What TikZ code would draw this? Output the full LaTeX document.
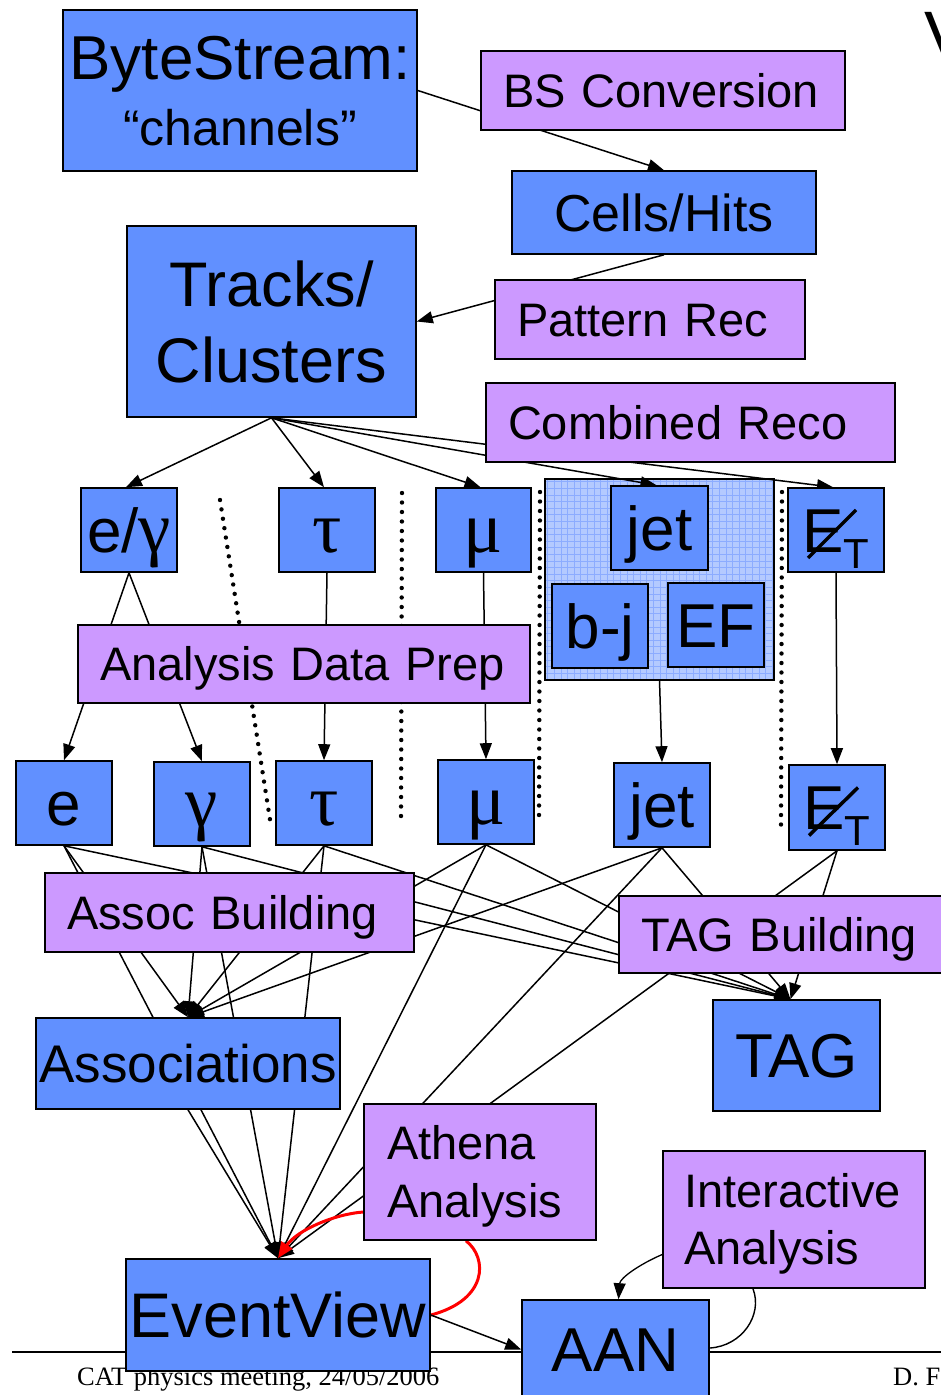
\documentclass[tikz,border=0pt]{standalone}
\usepackage{fontspec}
\setmainfont{Liberation Sans}
\newfontfamily\grkfont{Liberation Serif}
\newfontfamily\footfont{Liberation Serif}
\usetikzlibrary{arrows.meta}
\pgfdeclarelayer{back}
\pgfdeclarelayer{mid}
\pgfsetlayers{back,mid,main}
\definecolor{objblue}{RGB}{97,144,255}
\definecolor{procviolet}{RGB}{204,153,255}
\definecolor{grpfill}{RGB}{180,202,255}
\definecolor{grpgrid}{RGB}{140,172,255}
\definecolor{flowred}{RGB}{255,0,0}
% Greek object symbols set in a serif face
\newcommand{\grk}[1]{{\grkfont\fontsize{73}{73}\selectfont #1}}
% missing transverse energy label (slash drawn separately)
\newcommand{\missET}{E\raisebox{-16pt}{\fontsize{42}{42}\selectfont T}}
\begin{document}
\begin{tikzpicture}[x=1pt,y=-1pt,
  obj/.style={draw=black, fill=objblue, line width=1.6pt, inner sep=0pt},
  proc/.style={draw=black, fill=procviolet, line width=1.6pt, inner xsep=22pt, inner ysep=0pt, align=left},
  f47/.style={font=\fontsize{47}{56}\selectfont, text height=33.7pt, text depth=0pt},
  f52/.style={font=\fontsize{52}{60}\selectfont, text height=37.2pt, text depth=0pt},
  f53/.style={font=\fontsize{53}{60}\selectfont, text height=37.9pt, text depth=0pt},
  f62/.style={font=\fontsize{62}{70}\selectfont, text height=44.4pt, text depth=0pt},
  f63/.style={font=\fontsize{63}{70}\selectfont, text height=45.1pt, text depth=0pt},
  arr/.style={-{Triangle[length=16pt,width=12pt]}, line width=1.5pt},
  redarr/.style={-{Triangle[length=16pt,width=13pt]}, draw=flowred, line width=3pt},
  plain/.style={line width=1.4pt},
  dotrule/.style={line width=4.4pt, dash pattern=on 0pt off 9.5pt, line cap=round},
  slash/.style={line width=3.5pt}
]
\useasboundingbox (0,0) rectangle (941,1395);

% ---------- data objects and processing steps ----------
\node[obj, minimum width=354pt, minimum height=161pt, font=\fontsize{62}{66}\selectfont,
      text height=110.4pt, text depth=0pt] (bs) at (240,90.5)
  {\begin{tabular}[b]{@{}c@{}}ByteStream:\\\fontsize{50}{66}\selectfont “channels”\end{tabular}};
\node[proc, f47, text width=320pt, minimum height=79pt] (bsconv) at (663,90.5) {BS Conversion};
\node[obj, f52, minimum width=304pt, minimum height=83pt] (cells) at (664,212.5) {Cells/Hits};
\node[obj, minimum width=289pt, minimum height=191pt, font=\fontsize{63}{76}\selectfont,
      text height=121.1pt, text depth=0pt] (tracks) at (271.5,321.5)
  {\begin{tabular}[b]{@{}c@{}}Tracks/\\Clusters\end{tabular}};
\node[proc, f47, text width=266pt, minimum height=79pt] (patrec) at (650,319.5) {Pattern Rec};
\node[proc, f47, text width=365pt, minimum height=79pt] (combreco) at (690.5,422.5) {Combined Reco};

% first row of physics objects
\node[obj, f62, minimum width=96pt, minimum height=84pt] (eg1) at (129,530) {e/\grk{γ}};
\node[obj, f62, minimum width=96pt, minimum height=84pt] (tau1) at (327,530) {\grk{τ}};
\node[obj, f62, minimum width=95pt, minimum height=84pt] (mu1) at (483.5,530) {\grk{μ}};
\node[obj, f62, minimum width=97pt, minimum height=84pt] (jet1) at (659.5,528) {jet};
\node[obj, f62, minimum width=96pt, minimum height=84pt] (bj) at (600,626) {b-j};
\node[obj, f62, minimum width=96pt, minimum height=84pt] (ef) at (716,625) {EF};
\node[obj, f62, minimum width=96pt, minimum height=84pt] (et1) at (836,530) {\missET};
\draw[slash] ([shift={(-28,28)}]et1.center) -- ([shift={(20,-20)}]et1.center);

\node[proc, f47, text width=408pt, minimum height=78pt] (adp) at (304,664) {Analysis Data Prep};

% second row of physics objects
\node[obj, f62, minimum width=96pt, minimum height=84pt] (e2) at (64,803) {e};
\node[obj, f62, minimum width=96pt, minimum height=84pt] (g2) at (202,804) {\grk{γ}};
\node[obj, f62, minimum width=96pt, minimum height=84pt] (tau2) at (324,803) {\grk{τ}};
\node[obj, f62, minimum width=96pt, minimum height=84pt] (mu2) at (486,802) {\grk{μ}};
\node[obj, f62, minimum width=96pt, minimum height=84pt] (jet2) at (662,805) {jet};
\node[obj, f62, minimum width=96pt, minimum height=85pt] (et2) at (837,807.5) {\missET};
\draw[slash] ([shift={(-28,28)}]et2.center) -- ([shift={(21,-20)}]et2.center);

% building steps and their outputs
\node[proc, f47, text width=325pt, minimum height=79pt] (assocb) at (229.5,912.5) {Assoc Building};
\node[proc, f47, text width=297pt, minimum height=77pt] (tagb) at (789.5,934.5) {TAG Building};
\node[obj, f53, minimum width=304pt, minimum height=91pt] (assoc) at (188,1063.5) {Associations};
\node[obj, f62, minimum width=167pt, minimum height=111pt] (tag) at (796.5,1055.5) {TAG};

% analysis
\node[proc, inner xsep=23pt, text width=186pt, minimum height=136pt, font=\fontsize{47}{58}\selectfont,
      text height=91.7pt, text depth=0pt] (athena) at (480,1172)
  {\begin{tabular}[b]{@{}l@{}}Athena\\Analysis\end{tabular}};
\node[proc, inner xsep=21pt, text width=220pt, minimum height=137pt, font=\fontsize{47}{57}\selectfont,
      text height=90.7pt, text depth=0pt] (inter) at (794,1219.5)
  {\begin{tabular}[b]{@{}l@{}}Interactive\\Analysis\end{tabular}};
\node[obj, f63, minimum width=304pt, minimum height=112pt] (ev) at (278,1315) {EventView};
\node[obj, f62, minimum width=187pt, minimum height=99pt] (aan) at (615.5,1349.5) {AAN};

% ---------- background: page, jet group, separators, footer ----------
\begin{pgfonlayer}{back}
  \fill[white] (0,0) rectangle (941,1395);
  \node[fill=grpfill, minimum width=229pt, minimum height=201pt, inner sep=0pt] (grp) at (659.5,579.5) {};
  \begin{scope}
    \clip (grp.north west) rectangle (grp.south east);
    \draw[grpgrid, line width=0.7pt, step=6.6pt] (grp.north west) grid (grp.south east);
  \end{scope}
  \draw[line width=1.6pt] (grp.north west) rectangle (grp.south east);
  \draw[dotrule] (220,500) -- (271,826);
  \draw[dotrule] (402,493) -- (401,823);
  \draw[dotrule] (540,492) -- (539,822);
  \draw[dotrule] (782,492) -- (781,825);
  \draw[line width=2.5pt] (12,1352) -- (945,1352);
  \node[anchor=base west, inner sep=0pt, font=\footfont\fontsize{26.5}{26.5}\selectfont] (footl) at (77,1385)
    {CAT physics meeting, 24/05/2006};
  \node[anchor=base west, inner sep=0pt, font=\footfont\fontsize{26.5}{26.5}\selectfont] (footr) at (893,1385) {D. F};
  \node[anchor=north west, inner sep=0pt, font=\fontsize{70}{70}\selectfont, text height=50pt, text depth=0pt]
    (titlev) at (924,10) {V};
\end{pgfonlayer}

% ---------- connectors ----------
\begin{pgfonlayer}{mid}
  \draw[arr] (bs.east) -- (cells.north);
  \draw[arr] (cells.south) -- (tracks.east);
  \foreach \t in {eg1,tau1,mu1,jet1,et1} \draw[arr] (tracks.south) -- ([shift={(-3,0)}]\t.north);
  \draw[arr] (eg1.south) -- (e2.north);
  \draw[arr] (eg1.south) -- (g2.north);
  \draw[arr] (tau1.south) -- (tau2.north);
  \draw[arr] (mu1.south) -- (mu2.north);
  \draw[arr] (grp.south) -- (jet2.north);
  \draw[arr] (et1.south) -- (et2.north);
  \foreach \s in {e2,g2,tau2,mu2,jet2} \draw[arr] (\s.south) -- (assoc.north);
  \foreach \s in {e2,g2,tau2,mu2,jet2,et2} \draw[arr] (\s.south) -- ([shift={(-6,0)}]tag.north);
  \foreach \s in {e2,g2,tau2,mu2,jet2,et2,assoc} \draw[arr] (\s.south) -- (ev.north);
  \draw[redarr] ([shift={(0,40)}]athena.west) .. controls (335,1214) and (297,1230) .. (ev.north);
  \draw[draw=flowred, line width=3pt] ([shift={(-14,0)}]athena.south) .. controls (488,1258) and (488,1300) .. (ev.east);
  \draw[arr] (ev.east) -- (aan.west);
  \draw[arr, line width=1.3pt] ([shift={(0,35)}]inter.west) .. controls (640,1264) and (620,1278) .. ([shift={(3,0)}]aan.north);
  \draw[plain] ([shift={(-41,0)}]inter.south) .. controls (763,1315) and (742,1346) .. ([shift={(0,-1.5)}]aan.east);
\end{pgfonlayer}
\end{tikzpicture}
\end{document}
